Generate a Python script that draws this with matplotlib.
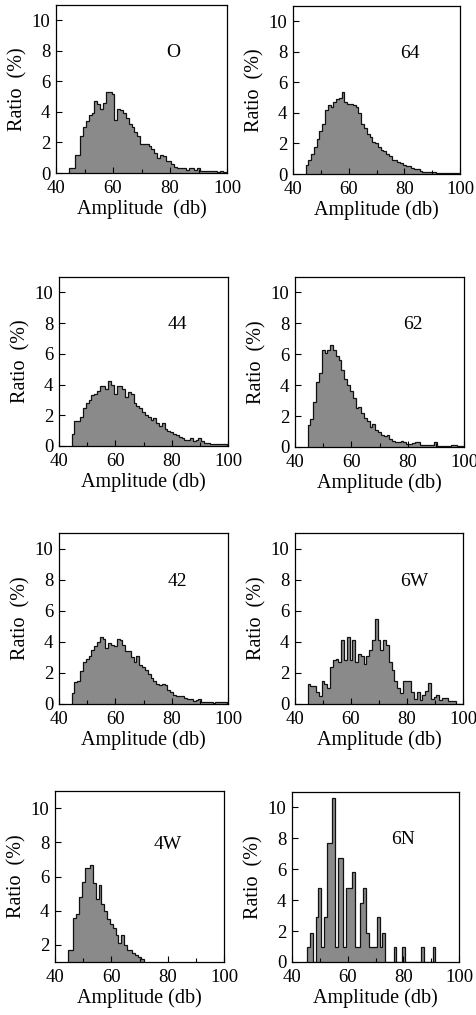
import numpy as np
import matplotlib
matplotlib.use("Agg")
from matplotlib import pyplot as plt
from matplotlib.ticker import MultipleLocator

plt.rcParams["font.family"] = ["Liberation Serif", "DejaVu Serif"]

# ratio (%) per 1 dB bin, bins centred on 45, 46, 47 ... dB
START = 45

ratio_O = [0.35, 0.35, 1.2, 1.2, 2.4, 3.0, 3.4, 3.8, 3.9, 4.7, 4.5, 4.2, 4.6, 5.3, 5.3,
           5.2, 3.5, 4.2, 4.1, 3.9, 3.6, 3.2, 3.0, 2.7, 2.4, 1.9, 1.9, 1.9, 1.8, 1.6,
           1.3, 1.0, 1.2, 1.1, 0.8, 0.8, 0.6, 0.4, 0.3, 0.3, 0.3, 0.2, 0.3, 0.3, 0.2,
           0.3, 0.15, 0.1, 0.1, 0.15, 0.1, 0.1, 0.05, 0.1, 0.05]
ratio_64 = [0.6, 0.9, 1.3, 1.8, 2.3, 2.8, 3.3, 4.2, 4.5, 4.4, 4.7, 4.9, 5.0, 5.4, 4.7,
            4.6, 4.6, 4.5, 4.4, 4.0, 3.3, 3.0, 2.6, 2.4, 2.1, 2.0, 1.8, 1.6, 1.5, 1.3,
            1.2, 0.9, 0.9, 0.8, 0.7, 0.6, 0.5, 0.5, 0.4, 0.35, 0.3, 0.2, 0.15, 0.15, 0.1,
            0.1, 0.1, 0.05, 0.05, 0.05, 0.05, 0.05, 0.05, 0.05, 0.05]
ratio_44 = [0.8, 1.6, 1.6, 1.9, 2.5, 2.8, 3.0, 3.3, 3.4, 3.6, 3.9, 3.9, 3.7, 4.2, 4.0,
            3.4, 3.9, 3.9, 3.7, 3.2, 3.5, 3.4, 2.8, 2.6, 2.5, 2.2, 2.0, 1.9, 1.7, 1.8,
            1.5, 1.3, 1.5, 1.1, 1.0, 0.9, 0.8, 0.7, 0.6, 0.5, 0.4, 0.4, 0.5, 0.3, 0.4,
            0.5, 0.3, 0.2, 0.2, 0.15, 0.15, 0.1, 0.1, 0.1, 0.15]
ratio_62 = [1.4, 1.8, 2.9, 4.2, 4.8, 6.3, 6.1, 6.3, 6.6, 6.3, 5.9, 5.6, 5.0, 4.4, 4.0,
            3.6, 3.2, 2.5, 2.6, 2.2, 1.9, 1.7, 1.3, 1.5, 1.1, 1.0, 0.8, 0.7, 0.8, 0.5,
            0.4, 0.3, 0.3, 0.4, 0.3, 0.2, 0.2, 0.25, 0.3, 0.3, 0.15, 0.1, 0.1, 0.1, 0.1,
            0.3, 0.05, 0.05, 0.05, 0.05, 0.05, 0.1, 0.1, 0.05, 0.05]
ratio_42 = [0.7, 1.4, 1.5, 2.1, 2.7, 2.9, 3.1, 3.5, 3.7, 4.0, 4.3, 4.2, 3.6, 3.9, 3.8,
            3.7, 4.2, 4.1, 3.8, 3.4, 3.4, 3.0, 2.7, 3.1, 2.5, 2.4, 2.2, 1.9, 1.7, 1.5,
            1.3, 1.2, 1.3, 1.2, 0.9, 0.8, 0.6, 0.5, 0.5, 0.5, 0.4, 0.35, 0.3, 0.2, 0.25,
            0.3, 0.15, 0.15, 0.1, 0.1, 0.05, 0.1, 0.1, 0.1, 0.1]
ratio_6W = [1.3, 1.15, 1.15, 0.8, 0.5, 1.5, 1.3, 1.0, 2.4, 2.85, 2.9, 2.7, 4.1, 2.8, 4.3,
            2.8, 4.1, 2.7, 3.2, 3.1, 2.6, 3.1, 3.5, 4.1, 5.5, 4.1, 3.5, 4.1, 3.8, 2.7,
            2.2, 1.5, 1.0, 0.7, 1.5, 1.5, 1.5, 0.8, 0.35, 0.8, 0.25, 0.55, 0.85, 1.35, 0.35,
            0.45, 0.6, 0.25, 0.4, 0.4, 0.2, 0.2, 0.2, 0.0, 0.0]
ratio_4W = [1.7, 1.7, 3.6, 3.8, 4.8, 5.7, 6.5, 6.5, 6.7, 5.6, 4.7, 5.5, 4.4, 4.0, 3.5,
            3.2, 3.0, 2.6, 2.1, 2.6, 2.0, 1.7, 1.7, 1.5, 1.4, 1.3, 1.2, 0.9, 0.6, 0.4,
            0.3, 0.2]
ratio_6N = [0.0, 1.0, 1.9, 0.0, 2.9, 4.8, 1.0, 2.9, 7.7, 7.7, 10.6, 1.0, 6.7, 6.7, 1.0,
            4.8, 4.8, 5.8, 1.0, 1.0, 3.85, 4.8, 1.9, 1.0, 1.0, 1.0, 2.9, 1.0, 1.9, 0.0,
            0.0, 0.0, 1.0, 0.0, 0.0, 1.0, 0.0, 0.0, 0.0, 0.0, 0.0, 0.0, 1.0, 0.0, 0.0,
            0.0, 1.0]

names = ["O", "64", "44", "62", "42", "6W", "4W", "6N"]
series = [ratio_O, ratio_64, ratio_44, ratio_62, ratio_42, ratio_6W, ratio_4W, ratio_6N]
name_x = [81, 82, 82, 82, 82, 82.5, 80, 80]
xlabels = ["Amplitude  (db)"] + ["Amplitude (db)"] * 7
ylims = [(0, 11)] * 6 + [(1, 11), (0, 11)]

# axes boxes in pixels: left, right, top, bottom
W, H = 476, 1015
boxes = [(56, 227, 5, 173), (293, 460, 6, 174),
         (59, 228, 277, 446), (295, 464, 277, 447),
         (59, 228, 533, 704), (295, 463, 533, 704),
         (55, 224, 791, 962), (292, 459, 792, 962)]

fig = plt.figure(figsize=(W / 100, H / 100), dpi=100)

for vals, name, nx, xl, yl, (l, r, t, b) in zip(series, names, name_x, xlabels, ylims, boxes):
    ax = fig.add_axes([l / W, 1 - b / H, (r - l) / W, (b - t) / H])
    edges = np.arange(START, START + len(vals) + 1) - 0.5
    ax.stairs(vals, edges, fill=True, color="#8a8a8a", lw=0)
    ax.stairs(vals, edges, color="#111111", lw=0.9)
    ax.set_xlim(40, 100)
    ax.set_ylim(*yl)
    ax.xaxis.set_major_locator(MultipleLocator(20))
    ax.xaxis.set_minor_locator(MultipleLocator(10))
    ax.yaxis.set_major_locator(MultipleLocator(2))
    ax.tick_params(which="both", direction="in", labelsize=13.5, width=0.8)
    ax.tick_params(which="major", length=4)
    ax.tick_params(which="minor", length=3)
    ax.tick_params(axis="x", pad=5)
    ax.tick_params(axis="y", pad=4)
    for s in ax.spines.values():
        s.set_linewidth(0.9)
    ax.set_xlabel(xl, fontsize=14.5, labelpad=2)
    ax.set_ylabel("Ratio  (%)", fontsize=14.5, labelpad=3)
    ax.text(nx, 7.9, name, fontsize=14, ha="center", va="center")

fig.savefig("out.png", dpi=100)
